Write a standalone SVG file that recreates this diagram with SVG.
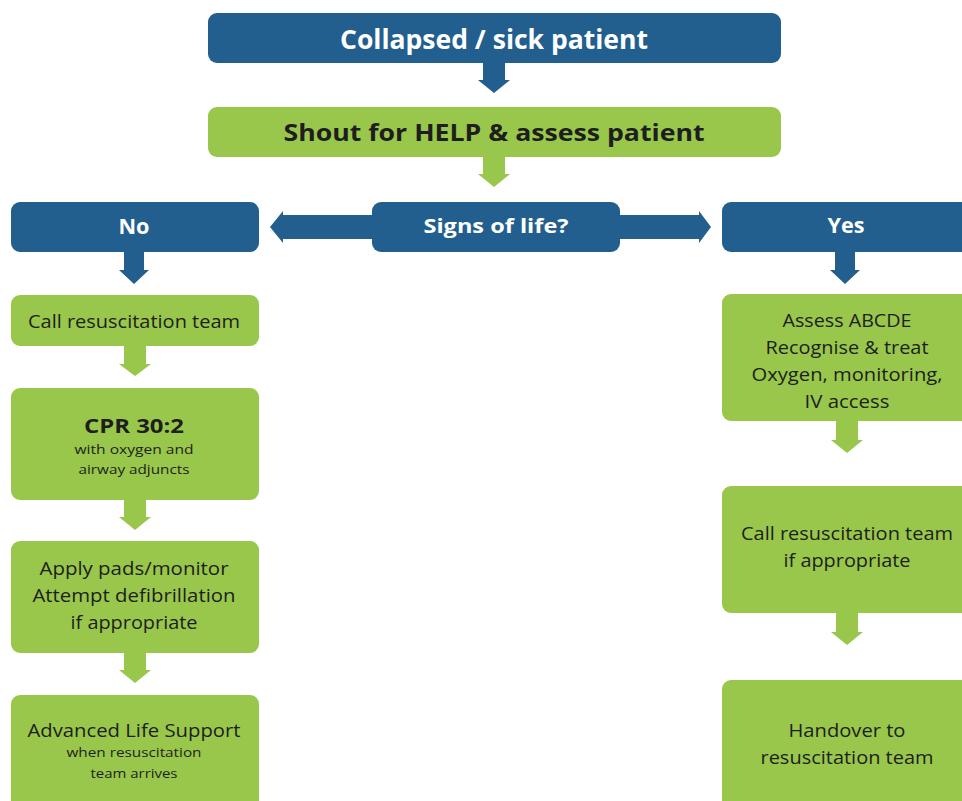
<svg xmlns="http://www.w3.org/2000/svg" width="962" height="801" viewBox="0 0 962 801">
<style>
.blue{fill:#225f8e}
.green{fill:#98c74b}
.tw{font-family:"Open Sans","Liberation Sans",sans-serif;fill:#ffffff;font-weight:bold;text-anchor:middle}
.td{font-family:"Open Sans","Liberation Sans",sans-serif;fill:#1e1e1e;text-anchor:middle}
.b{font-weight:bold}
</style>
<rect width="962" height="801" fill="#ffffff"/>
<g id="connectors">
<polygon class="blue" points="483,62 505,62 505,80 510,80 494,93 478,80 483,80"/>
<polygon class="green" points="483,156 505,156 505,174 510,174 494,187 478,174 483,174"/>
<polygon class="blue" points="373,215 283,215 283,211 270,227 283,243 283,239 373,239"/>
<polygon class="blue" points="619,215 699,215 699,211 711,227 699,243 699,239 619,239"/>
<polygon class="blue" points="124,251 144,251 144,270 149,270 134,284 119,270 124,270"/>
<polygon class="blue" points="835,251 855,251 855,270 860,270 845,284 830,270 835,270"/>
<polygon class="green" points="124,344 146,344 146,364 151,364 135,376 119,364 124,364"/>
<polygon class="green" points="124,499 146,499 146,517 151,517 135,530 119,517 124,517"/>
<polygon class="green" points="124,651 146,651 146,670 151,670 135,683 119,670 124,670"/>
<polygon class="green" points="836,420 858,420 858,440 863,440 847,453 831,440 836,440"/>
<polygon class="green" points="836,612 858,612 858,632 863,632 847,645 831,632 836,632"/>
</g>
<g id="n-collapsed">
<rect class="blue" x="208" y="13" width="573" height="50" rx="9"/>
<text class="tw" x="494" y="49" font-size="26" textLength="308" lengthAdjust="spacingAndGlyphs">Collapsed / sick patient</text>
</g>
<g id="n-shout">
<rect class="green" x="208" y="107" width="573" height="50" rx="9"/>
<text class="td b" x="494" y="141" font-size="24" textLength="421" lengthAdjust="spacingAndGlyphs">Shout for HELP &amp; assess patient</text>
</g>
<g id="n-signs">
<rect class="blue" x="372" y="202" width="248" height="50" rx="9"/>
<text class="tw" x="496" y="233" font-size="20" textLength="145" lengthAdjust="spacingAndGlyphs">Signs of life?</text>
</g>
<g id="n-no">
<rect class="blue" x="11" y="202" width="248" height="50" rx="9"/>
<text class="tw" x="134" y="234" font-size="21" textLength="31" lengthAdjust="spacingAndGlyphs">No</text>
</g>
<g id="n-yes">
<rect class="blue" x="722" y="202" width="250" height="50" rx="9"/>
<text class="tw" x="846" y="233" font-size="21" textLength="37" lengthAdjust="spacingAndGlyphs">Yes</text>
</g>
<g id="n-call-left">
<rect class="green" x="11" y="295" width="248" height="51" rx="9"/>
<text class="td" x="134" y="328" font-size="18" textLength="212" lengthAdjust="spacingAndGlyphs">Call resuscitation team</text>
</g>
<g id="n-cpr">
<rect class="green" x="11" y="388" width="248" height="112" rx="9"/>
<text class="td b" x="134" y="433" font-size="20" textLength="100" lengthAdjust="spacingAndGlyphs">CPR 30:2</text>
<text class="td" x="134" y="454" font-size="12" textLength="119" lengthAdjust="spacingAndGlyphs">with oxygen and</text>
<text class="td" x="134" y="474" font-size="12" textLength="111" lengthAdjust="spacingAndGlyphs">airway adjuncts</text>
</g>
<g id="n-apply">
<rect class="green" x="11" y="541" width="248" height="112" rx="9"/>
<text class="td" x="134" y="575" font-size="19" textLength="189" lengthAdjust="spacingAndGlyphs">Apply pads/monitor</text>
<text class="td" x="134" y="602" font-size="19" textLength="203" lengthAdjust="spacingAndGlyphs">Attempt defibrillation</text>
<text class="td" x="134" y="629" font-size="19" textLength="127" lengthAdjust="spacingAndGlyphs">if appropriate</text>
</g>
<g id="n-als">
<rect class="green" x="11" y="695" width="248" height="120" rx="9"/>
<text class="td" x="134" y="737" font-size="19" textLength="213" lengthAdjust="spacingAndGlyphs">Advanced Life Support</text>
<text class="td" x="134" y="757" font-size="12" textLength="135" lengthAdjust="spacingAndGlyphs">when resuscitation</text>
<text class="td" x="134" y="778" font-size="12" textLength="87" lengthAdjust="spacingAndGlyphs">team arrives</text>
</g>
<g id="n-assess">
<rect class="green" x="722" y="294" width="250" height="127" rx="9"/>
<text class="td" x="847" y="327" font-size="19" textLength="129" lengthAdjust="spacingAndGlyphs">Assess ABCDE</text>
<text class="td" x="847" y="354" font-size="19" textLength="163" lengthAdjust="spacingAndGlyphs">Recognise &amp; treat</text>
<text class="td" x="847" y="381" font-size="19" textLength="191" lengthAdjust="spacingAndGlyphs">Oxygen, monitoring,</text>
<text class="td" x="847" y="408" font-size="19" textLength="85" lengthAdjust="spacingAndGlyphs">IV access</text>
</g>
<g id="n-call-right">
<rect class="green" x="722" y="486" width="250" height="127" rx="9"/>
<text class="td" x="847" y="540" font-size="19" textLength="212" lengthAdjust="spacingAndGlyphs">Call resuscitation team</text>
<text class="td" x="847" y="567" font-size="19" textLength="127" lengthAdjust="spacingAndGlyphs">if appropriate</text>
</g>
<g id="n-handover">
<rect class="green" x="722" y="680" width="250" height="135" rx="9"/>
<text class="td" x="847" y="737" font-size="19" textLength="117" lengthAdjust="spacingAndGlyphs">Handover to</text>
<text class="td" x="847" y="764" font-size="19" textLength="173" lengthAdjust="spacingAndGlyphs">resuscitation team</text>
</g>
</svg>
